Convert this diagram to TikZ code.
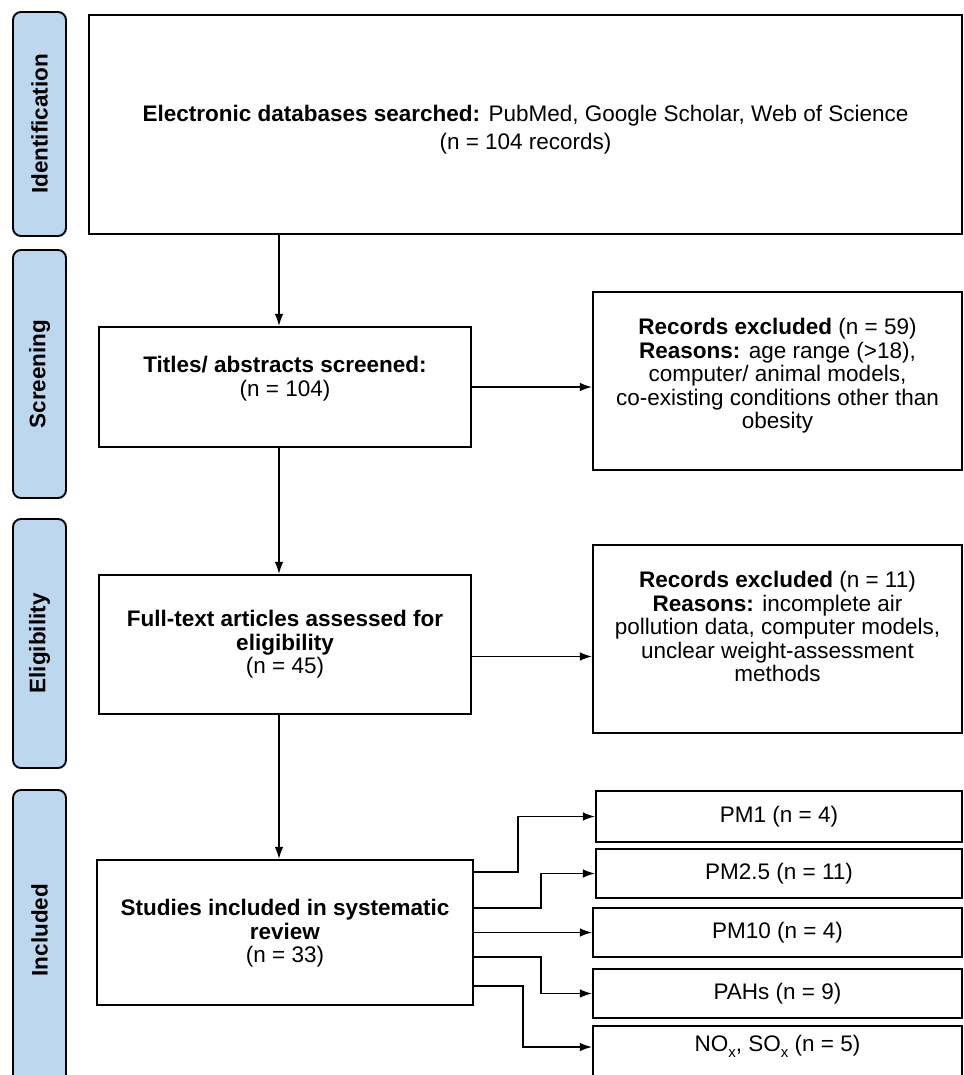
\documentclass[tikz,border=0pt]{standalone}
\usepackage{fontspec}
\setmainfont{Liberation Sans}
\usetikzlibrary{arrows.meta}
\definecolor{sideblue}{RGB}{189,215,238}
\newcommand\fs{\fontsize{22.5}{23.5}\selectfont}
\newcommand\subx{\raisebox{-6pt}{\fontsize{15}{15}\selectfont x}}
\newcommand\liftlines[2]{\raisebox{#1}[\height][\depth]{\begin{tabular}{@{}c@{}}#2\end{tabular}}}
\begin{document}
\begin{tikzpicture}[x=1pt,y=-1pt,
  box/.style={draw, line width=2.1pt, inner sep=0pt, align=center, font=\fs},
  side/.style={draw, line width=1.9pt, rounded corners=8pt, fill=sideblue, rotate=90,
    minimum height=53pt, inner sep=0pt, font=\fs\bfseries},
  arr/.style={line width=1.4pt, -{Latex[length=12pt,width=8.5pt]}}]
\useasboundingbox (0,0) rectangle (963,1075);
% stage bars
\node[side, minimum width=224pt] (sid) at (39.5,124) {Identification};
\node[side, minimum width=248pt] (ssc) at (39.5,374) {Screening};
\node[side, minimum width=249pt] (sel) at (39.5,643.5) {Eligibility};
\node[side, minimum width=300pt] (sin) at (39.5,940) {\hspace{20pt}Included};
% boxes
\node[box, minimum width=873pt, minimum height=219pt, font=\fontsize{22.5}{28}\selectfont] (db) at (525.5,124.5)
  {\liftlines{-5pt}{\textbf{Electronic databases searched:} PubMed, Google Scholar, Web of Science\\(n = 104 records)}};
\node[box, minimum width=372pt, minimum height=120pt] (ti) at (285,387)
  {\liftlines{7pt}{\textbf{Titles/ abstracts screened:}\\(n = 104)}};
\node[box, minimum width=369pt, minimum height=178pt] (ex1) at (777.5,381)
  {\liftlines{4pt}{\textbf{Records excluded} (n = 59)\\\textbf{Reasons:} age range (>18),\\computer/ animal models,\\co-existing conditions other than\\obesity}};
\node[box, minimum width=372pt, minimum height=139pt] (ft) at (285,644.5)
  {\textbf{Full-text articles assessed for}\\\textbf{eligibility}\\(n = 45)};
\node[box, minimum width=369pt, minimum height=188pt] (ex2) at (777.5,639)
  {\liftlines{9pt}{\textbf{Records excluded} (n = 11)\\\textbf{Reasons:} incomplete air\\pollution data, computer models,\\unclear weight-assessment\\methods}};
\node[box, minimum width=376pt, minimum height=145pt] (st) at (285,932.5)
  {\liftlines{-2pt}{\textbf{Studies included in systematic}\\\textbf{review}\\(n = 33)}};
\node[box, minimum width=366pt, minimum height=51pt] (pm1) at (779,816.5) {PM1 (n = 4)};
\node[box, minimum width=366pt, minimum height=49pt] (pm25) at (779,873.5) {PM2.5 (n = 11)};
\node[box, minimum width=369pt, minimum height=49pt] (pm10) at (777.5,932.5) {PM10 (n = 4)};
\node[box, minimum width=369pt, minimum height=49pt] (pahs) at (777.5,993.5) {PAHs (n = 9)};
\node[box, minimum width=369pt, minimum height=60pt] (nox) at (777.5,1056) {\liftlines{9pt}{NO\subx, SO\subx{} (n = 5)}};
% connectors
\draw[arr] ([xshift=-6pt]db.south -| ti.north) -- ([xshift=-6pt]ti.north);
\draw[arr] ([xshift=-6pt]ti.south) -- ([xshift=-6pt]ft.north);
\draw[arr] ([xshift=-6pt]ft.south) -- ([xshift=-6pt]st.north);
\draw[arr] (ti.east) -- (ti.east -| ex1.west);
\draw[arr] ([yshift=-12pt]ft.east) -- ([yshift=-12pt]ft.east -| ex2.west);
\draw[arr] ([yshift=60.5pt]st.east) -- ++(44,0) |- (pm1.west);
\draw[arr] ([yshift=24.5pt]st.east) -- ++(67,0) |- (pm25.west);
\draw[arr] (st.east) -- (pm10.west);
\draw[arr] ([yshift=-24.5pt]st.east) -- ++(67,0) |- (pahs.west);
\draw[arr] ([yshift=-53.5pt]st.east) -- ++(49,0) |- ([yshift=9pt]nox.west);
\end{tikzpicture}
\end{document}
